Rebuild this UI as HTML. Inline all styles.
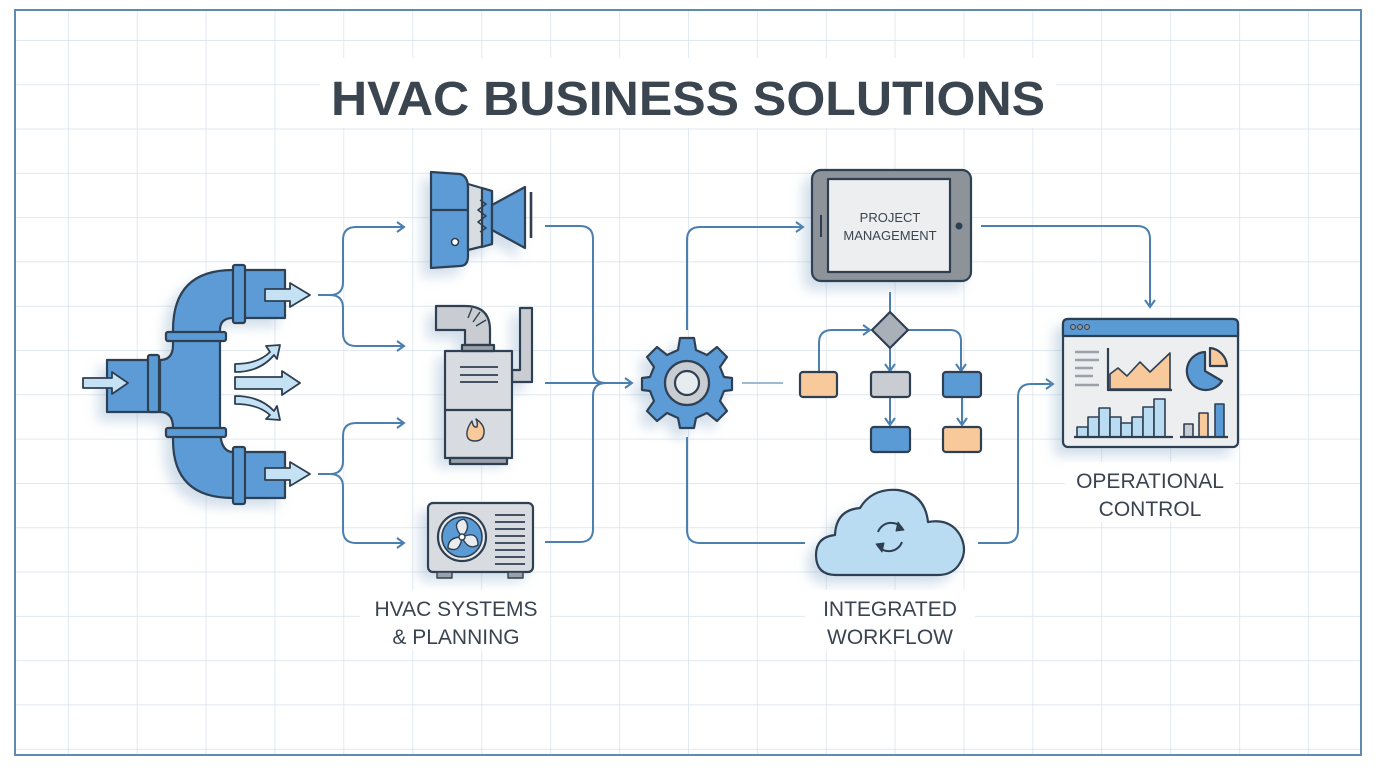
<!DOCTYPE html>
<html><head><meta charset="utf-8"><style>
html,body{margin:0;padding:0;background:#fff;}
svg{display:block;}
text{font-family:"Liberation Sans",sans-serif;}
</style></head><body>
<svg width="1376" height="768" viewBox="0 0 1376 768" xmlns="http://www.w3.org/2000/svg">
<defs>
<pattern id="g" x="-1" y="40" width="68.9" height="44.3" patternUnits="userSpaceOnUse">
<path d="M0 0H68.9M0 0V44.3" stroke="#d6e1eb" stroke-width="1.4" fill="none"/>
</pattern>
<filter id="sh" x="-30%" y="-30%" width="160%" height="160%"><feDropShadow dx="-8" dy="8" stdDeviation="6" flood-color="#7fa3c4" flood-opacity="0.35"/></filter>
<marker id="ar" markerWidth="12" markerHeight="12" refX="10" refY="6" orient="auto" markerUnits="userSpaceOnUse"><path d="M3 1L10 6L3 11" fill="none" stroke="#4a7fb0" stroke-width="2"/></marker>
</defs>
<rect width="1376" height="768" fill="#fff"/>
<rect x="15" y="10" width="1346" height="745" fill="url(#g)"/>
<rect x="15" y="10" width="1346" height="745" fill="none" stroke="#5f8bb3" stroke-width="2"/>

<rect x="320" y="58" width="736" height="70" fill="#fff"/>
<text x="688" y="115" text-anchor="middle" font-size="48" font-weight="bold" fill="#3a4550" textLength="714" lengthAdjust="spacingAndGlyphs">HVAC BUSINESS SOLUTIONS</text>

<g fill="none" stroke="#4a7fb0" stroke-width="2">
<path d="M318 295H330Q343 295 343 282V240Q343 227 356 227H404" marker-end="url(#ar)"/>
<path d="M330 295Q343 295 343 308V333Q343 346 356 346H404" marker-end="url(#ar)"/>
<path d="M318 474H330Q343 474 343 461V436Q343 423 356 423H404" marker-end="url(#ar)"/>
<path d="M330 474Q343 474 343 487V530Q343 543 356 543H404" marker-end="url(#ar)"/>
<path d="M545 226H580Q593 226 593 239V370Q593 383 606 383H632" marker-end="url(#ar)"/>
<path d="M545 542H580Q593 542 593 529V396Q593 383 606 383"/>
<path d="M545 383H606"/>
<path d="M687 330V240Q687 227 700 227H803" marker-end="url(#ar)"/>
<path d="M687 437V530Q687 543 700 543H805"/>
<path d="M742 383H783" stroke="#9fbbd4"/>
<path d="M981 226H1137Q1150 226 1150 239V307" marker-end="url(#ar)"/>
<path d="M978 543H1005Q1018 543 1018 530V397Q1018 384 1031 384H1053" marker-end="url(#ar)"/>
<path d="M890 292V312"/>
<path d="M819 372V343Q819 330 832 330H870" marker-end="url(#ar)"/>
<path d="M908 330H950Q961 330 961 341V371" marker-end="url(#ar)"/>
<path d="M890 348V371" marker-end="url(#ar)"/>
<path d="M890 397V425" marker-end="url(#ar)"/>
<path d="M962 397V425" marker-end="url(#ar)"/>
</g>

<g stroke="#2f3f52" stroke-width="2.2" stroke-linejoin="round">
<g filter="url(#sh)">
<path d="M107 360H160V412H107Z" fill="#5b9bd5"/>
<path d="M173 340V330Q173 270 233 270H285V318H233Q220 318 220 330V428Q220 452 233 452H285V498H233Q173 498 173 440V428Q173 412 160 412V360Q173 360 173 345Z" fill="#5b9bd5"/>
</g>
<rect x="148" y="355" width="11" height="57" rx="2" fill="#5b9bd5"/>
<rect x="166" y="332" width="60" height="9" rx="2" fill="#5b9bd5"/>
<rect x="166" y="428" width="60" height="9" rx="2" fill="#5b9bd5"/>
<rect x="233" y="265" width="12" height="58" rx="2" fill="#5b9bd5"/>
<rect x="233" y="447" width="12" height="57" rx="2" fill="#5b9bd5"/>
<g fill="#c5e2f5" stroke-width="1.8">
<path d="M83 378H112V372L128 383L112 394V388H83Z"/>
<path d="M265 289H290V283L310 295L290 307V301H265Z"/>
<path d="M265 468H290V462L310 474L290 486V480H265Z"/>
<path d="M235 377H282V371L300 383L282 395V389H235Z"/>
<path d="M235 364Q258 364 270 352L266 346L280 345L277 359L274 355Q260 372 235 372Z"/>
<path d="M235 396Q260 396 274 411L277 406L280 420L266 419L270 415Q258 404 235 404Z"/>
</g>

<g filter="url(#sh)">
<path d="M431 172L460 174Q468 176 468 188V256Q468 266 460 266L431 268Z" fill="#5b9bd5"/>
<path d="M468 184L492 191V244L468 250Z" fill="#d8dde2"/>
<path d="M482 188L492 191V244L482 247Z" fill="#5b9bd5"/>
<path d="M492 205L525 187V248L492 230Z" fill="#5b9bd5"/>
</g>
<path d="M431 210H468" fill="none"/>
<path d="M480 200L486 204L478 210L486 216L478 222L486 228L480 232" fill="none" stroke-width="1.6"/>
<circle cx="455" cy="242" r="3.5" fill="#fff" stroke-width="1.6"/>
<path d="M531 192V238" fill="none" stroke-width="2.6"/>

<g filter="url(#sh)">
<path d="M520 308H532V382H512V370H520Z" fill="#c9cdd2"/>
<path d="M436 306H465Q490 306 490 330V345H465V330H436Z" fill="#c9cdd2"/>
<rect x="445" y="351" width="67" height="107" fill="#d8dbdf"/>
</g>
<path d="M472 308L468 318M480 312L473 322M486 320L476 326" fill="none" stroke-width="1.4"/>
<rect x="462" y="345" width="32" height="6" fill="#9aa1a8"/>
<path d="M445 410H512" fill="none"/>
<path d="M460 367H498M460 375H498M460 382H498" fill="none" stroke-width="1.8"/>
<path d="M475 441Q466 441 467 432Q468 426 472 421Q473 428 477 427Q478 423 476 419Q485 425 484 433Q483 441 475 441Z" fill="#f8c99a" stroke-width="1.4"/>
<rect x="450" y="458" width="57" height="6" fill="#9aa1a8"/>

<g filter="url(#sh)"><rect x="428" y="503" width="105" height="69" rx="5" fill="#d8dbdf"/></g>
<rect x="437" y="572" width="15" height="6" fill="#9aa1a8" stroke-width="1.4"/>
<rect x="508" y="572" width="15" height="6" fill="#9aa1a8" stroke-width="1.4"/>
<circle cx="462" cy="537" r="24" fill="#e8ecef"/>
<circle cx="462" cy="537" r="20" fill="#5b9bd5" stroke-width="1.6"/>
<path d="M462 537Q450 522 464 519Q472 527 462 537ZM462 537Q478 530 478 545Q468 551 462 537ZM462 537Q460 554 448 548Q448 537 462 537Z" fill="#e8ecef" stroke-width="1.4"/>
<circle cx="462" cy="537" r="3" fill="#fff" stroke-width="1.4"/>
<path d="M495 515H525M495 522H525M495 529H525M495 536H525M495 543H525M495 550H525M495 557H525M495 564H525" fill="none" stroke-width="1.8"/>

<g filter="url(#sh)" transform="translate(687 383)">
<path fill="#5b9bd5" d="M-7 -45H7L9 -33L20 -28L30 -36L40 -26L33 -16L37 -6L45 -5V7L37 8L33 18L40 28L30 38L20 30L9 35L7 45H-7L-9 35L-20 30L-30 38L-40 28L-33 18L-37 8L-45 7V-5L-37 -6L-33 -16L-40 -26L-30 -36L-20 -28L-9 -33Z"/>
<circle r="22" fill="#c9cdd2"/>
<circle r="12" fill="#e8ecef"/>
</g>

<g filter="url(#sh)"><rect x="812" y="170" width="159" height="111" rx="9" fill="#8d9399"/></g>
<rect x="828" y="179" width="122" height="93" fill="#eceef0"/>
<path d="M821 215V237" fill="none" stroke-width="2"/>
<circle cx="959" cy="226" r="3.5" fill="#2f3f52" stroke="none"/>

<path d="M890 312L908 330L890 348L872 330Z" fill="#a9b0b7"/>
<rect x="800" y="372" width="37" height="25" rx="3" fill="#f8c99a"/>
<rect x="871" y="372" width="39" height="25" rx="3" fill="#c9cdd2"/>
<rect x="943" y="372" width="38" height="25" rx="3" fill="#5b9bd5"/>
<rect x="871" y="427" width="39" height="25" rx="3" fill="#5b9bd5"/>
<rect x="943" y="427" width="38" height="25" rx="3" fill="#f8c99a"/>

<g filter="url(#sh)"><path d="M836 575Q816 575 816 555Q816 537 835 535Q836 510 860 508Q872 488 898 490Q925 494 928 522Q950 518 960 535Q968 550 960 563Q953 575 938 575Z" fill="#b9dcf2"/></g>
<g fill="none" stroke-width="2"><path d="M878 532A14 14 0 0 1 902 528"/><path d="M902 542A14 14 0 0 1 878 546"/></g>
<path d="M898 522L904 530L896 531Z" fill="#2f3f52" stroke-width="1"/>
<path d="M882 552L876 544L884 543Z" fill="#2f3f52" stroke-width="1"/>

<g filter="url(#sh)"><rect x="1063" y="319" width="175" height="128" rx="5" fill="#eceef0"/></g>
<path d="M1068 319H1233Q1238 319 1238 324V336H1063V324Q1063 319 1068 319Z" fill="#5b9bd5"/>
<g fill="#8d9399" stroke-width="1"><circle cx="1073" cy="327" r="2.5"/><circle cx="1080" cy="327" r="2.5"/><circle cx="1087" cy="327" r="2.5"/></g>
<path d="M1075 352H1099M1075 360H1099M1075 368H1093M1075 376H1093M1075 385H1099" fill="none" stroke="#9aa1a8" stroke-width="2.4"/>
<path d="M1110 389V374L1118 368L1127 376L1140 362L1150 372L1170 353V389Z" fill="#f8c99a" stroke-width="1.6"/>
<path d="M1108 348V390H1172" fill="none"/>
<path d="M1205 352A19 19 0 1 0 1222 381L1205 371Z" fill="#5b9bd5"/>
<path d="M1210 348A19 19 0 0 1 1227 366H1210Z" fill="#f8c99a"/>
<g stroke-width="1.6">
<rect x="1077" y="427" width="11" height="10" fill="#b9dcf2"/>
<rect x="1088" y="417" width="11" height="20" fill="#b9dcf2"/>
<rect x="1099" y="408" width="11" height="29" fill="#b9dcf2"/>
<rect x="1110" y="417" width="11" height="20" fill="#b9dcf2"/>
<rect x="1121" y="423" width="11" height="14" fill="#b9dcf2"/>
<rect x="1132" y="417" width="11" height="20" fill="#b9dcf2"/>
<rect x="1143" y="407" width="11" height="30" fill="#b9dcf2"/>
<rect x="1154" y="399" width="11" height="38" fill="#b9dcf2"/>
<rect x="1184" y="424" width="9" height="13" fill="#c9cdd2"/>
<rect x="1199" y="413" width="9" height="24" fill="#f8c99a"/>
<rect x="1215" y="404" width="9" height="33" fill="#5b9bd5"/>
</g>
<path d="M1074 437H1173M1180 437H1228" fill="none"/>
</g>

<g fill="#3a4450" font-size="21" text-anchor="middle">
<text x="890" y="222" font-size="13">PROJECT</text>
<text x="890" y="240" font-size="13">MANAGEMENT</text>
<rect x="360" y="590" width="190" height="60" fill="#fff"/>
<rect x="805" y="590" width="170" height="60" fill="#fff"/>
<rect x="1065" y="462" width="170" height="60" fill="#fff"/>
<text x="456" y="616">HVAC SYSTEMS</text>
<text x="456" y="644">&amp; PLANNING</text>
<text x="890" y="616">INTEGRATED</text>
<text x="890" y="644">WORKFLOW</text>
<text x="1150" y="488">OPERATIONAL</text>
<text x="1150" y="516">CONTROL</text>
</g>
</svg>
</body></html>
